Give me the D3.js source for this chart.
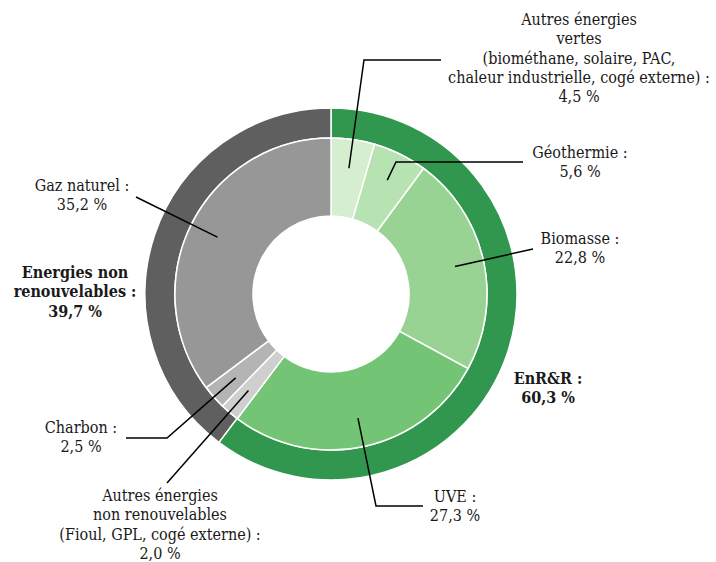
<!DOCTYPE html>
<html>
<head>
<meta charset="utf-8">
<script src="https://cdn.jsdelivr.net/npm/d3@7"></script>
<style>
  html, body { margin: 0; padding: 0; background: #fff; }
  svg { display: block; }
  text { font-family: "DejaVu Serif", serif; font-stretch: condensed; fill: #1a1a1a; }
</style>
</head>
<body>
<svg id="chart" width="716" height="562"></svg>
<script>
// ---- data ----
const innerCategories = ["Autres énergies vertes", "Géothermie", "Biomasse", "UVE",
  "Autres énergies non renouvelables", "Charbon", "Gaz naturel"];
const innerValues = [4.5, 5.6, 22.8, 27.3, 2.0, 2.5, 35.2];
const innerColors = ["#d4eecf", "#b7e2b1", "#98d394", "#74c476", "#cfcfcf", "#b4b4b4", "#979797"];

const outerCategories = ["EnR&R", "Energies non renouvelables"];
const outerValues = [60.3, 39.7];
const outerColors = ["#31974f", "#5f5f5f"];

const innerLabelLines = [
  ["Autres énergies", "vertes", "(biométhane, solaire, PAC,", "chaleur industrielle, cogé externe)\u00A0:"],
  ["Géothermie\u00A0:"],
  ["Biomasse\u00A0:"],
  ["UVE\u00A0:"],
  ["Autres énergies", "non renouvelables", "(Fioul, GPL, cogé externe)\u00A0:"],
  ["Charbon\u00A0:"],
  ["Gaz naturel\u00A0:"]
];
const outerLabelLines = [["EnR&R\u00A0:"], ["Energies non", "renouvelables\u00A0:"]];

// ---- layout ----
const cx = 331, cy = 294;
const rHole = 78, rInner = 156, rOuter = 186, rAnchor = 127;
const lineH = 19.3;

// label layout: text centre x, first baseline y, leader points after anchor
const innerLayout = [
  { x: 579, y: 25, pts: [[364, 60], [441, 60]] },
  { x: 580, y: 158, pts: [[396, 162], [523, 162]] },
  { x: 580, y: 244, pts: [[533, 249]] },
  { x: 455, y: 502, pts: [[376, 506], [423, 506]] },
  { x: 160, y: 501, pts: [[167, 483]] },
  { x: 81, y: 433, pts: [[167, 438], [126, 438]] },
  { x: 82, y: 191, pts: [[136, 197]] }
];
const outerLayout = [
  { x: 548, y: 384 },
  { x: 75, y: 278 }
];

const fmt = v => d3.format(".1f")(v).replace(".", ",") + " %";

const svg = d3.select("#chart");
const g = svg.append("g").attr("transform", `translate(${cx},${cy})`);

const pie = d3.pie().sort(null).value(d => d);

const innerArcs = pie(innerValues);
const outerArcs = pie(outerValues);

const arcInner = d3.arc().innerRadius(rHole).outerRadius(rInner);
const arcOuter = d3.arc().innerRadius(rInner).outerRadius(rOuter);
const arcAnchor = d3.arc().innerRadius(rAnchor).outerRadius(rAnchor);

g.selectAll("path.outer").data(outerArcs).join("path")
  .attr("class", "outer")
  .attr("d", arcOuter)
  .attr("fill", (d, i) => outerColors[i])
  .attr("stroke", "#fff").attr("stroke-width", 1.5);

g.selectAll("path.inner").data(innerArcs).join("path")
  .attr("class", "inner")
  .attr("d", arcInner)
  .attr("fill", (d, i) => innerColors[i])
  .attr("stroke", "#fff").attr("stroke-width", 1.5);

// leader lines
innerArcs.forEach((a, i) => {
  const c = arcAnchor.centroid(a);
  const pts = [[cx + c[0], cy + c[1]]].concat(innerLayout[i].pts);
  svg.append("path")
    .attr("d", d3.line()(pts))
    .attr("fill", "none")
    .attr("stroke", "#000")
    .attr("stroke-width", 1.5);
});

// inner labels
innerCategories.forEach((cat, i) => {
  const lines = innerLabelLines[i].concat([fmt(innerValues[i])]);
  const t = svg.append("text")
    .attr("text-anchor", "middle")
    .attr("font-size", 16);
  lines.forEach((l, j) => {
    t.append("tspan").attr("x", innerLayout[i].x).attr("y", innerLayout[i].y + j * lineH).text(l);
  });
});

// outer labels
outerCategories.forEach((cat, i) => {
  const lines = outerLabelLines[i].concat([fmt(outerValues[i])]);
  const t = svg.append("text")
    .attr("text-anchor", "middle")
    .attr("font-size", 16)
    .attr("font-weight", "bold");
  lines.forEach((l, j) => {
    t.append("tspan").attr("x", outerLayout[i].x).attr("y", outerLayout[i].y + j * lineH).text(l);
  });
});
</script>
</body>
</html>
